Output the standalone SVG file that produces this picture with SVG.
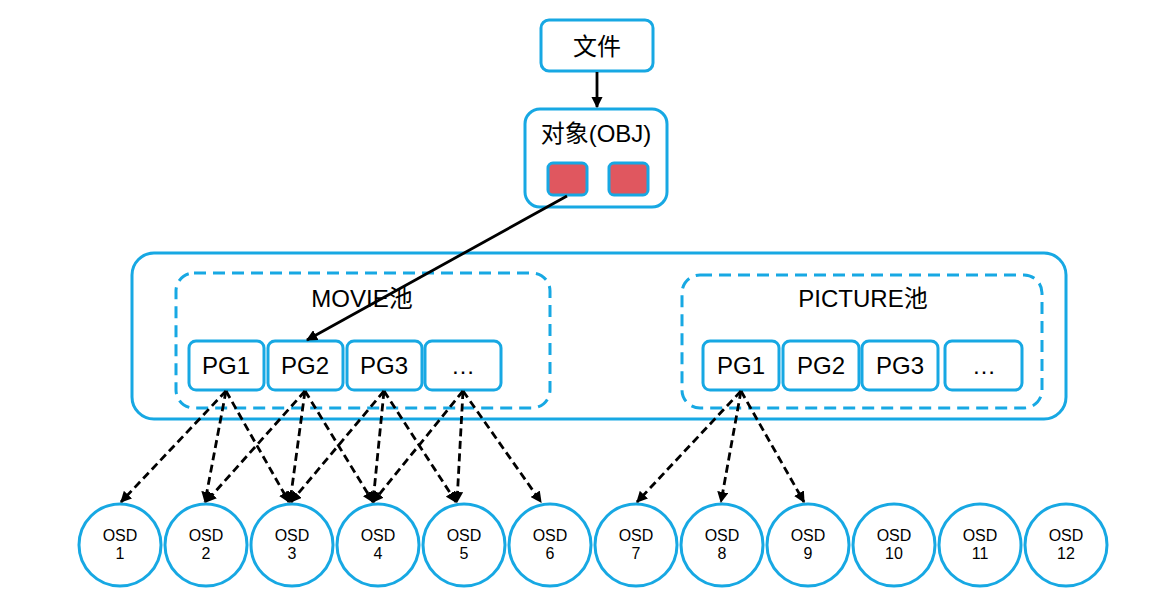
<svg xmlns="http://www.w3.org/2000/svg" width="1158" height="605" viewBox="0 0 1158 605">
<style>
.box{fill:#fff;stroke:#17a8e3;stroke-width:3}
.dash{fill:none;stroke:#17a8e3;stroke-width:3;stroke-dasharray:12,7}
.red{fill:#e0575f;stroke:#17a8e3;stroke-width:3}
.t{font-family:"Liberation Sans","Noto Sans CJK SC",sans-serif;font-size:24px;fill:#000;text-anchor:middle}
.s{font-family:"Liberation Sans","Noto Sans CJK SC",sans-serif;font-size:16px;fill:#000;text-anchor:middle}
.solid{stroke:#000;stroke-width:2.8;fill:none;marker-end:url(#ah)}
.dl{stroke:#000;stroke-width:2.8;fill:none;stroke-dasharray:8,4.5;marker-end:url(#ah)}
</style>
<defs>
<marker id="ah" viewBox="0 0 10 10" refX="9" refY="5" markerWidth="4" markerHeight="4" orient="auto" markerUnits="strokeWidth">
<path d="M0,0 L10,5 L0,10 z" fill="#000"/>
</marker>
</defs>
<rect width="1158" height="605" fill="#fff"/>
<g id="container">
<rect class="box" x="132" y="253" width="934" height="166" rx="22"/>
</g>
<g id="movie-pool">
<rect class="dash" x="176" y="273" width="374" height="135" rx="18"/>
<text class="t" x="362" y="307">MOVIE池</text>
</g>
<g id="picture-pool">
<rect class="dash" x="682" y="275" width="360" height="133" rx="18"/>
<text class="t" x="863" y="307">PICTURE池</text>
</g>
<g id="file">
<rect class="box" x="541" y="20" width="112" height="51" rx="8"/>
<text class="t" x="597" y="55">文件</text>
</g>
<g id="obj">
<rect class="box" x="525" y="109" width="142" height="98" rx="15"/>
<text class="t" x="596" y="142">对象(OBJ)</text>
<rect class="red" x="548" y="163" width="39" height="32" rx="5"/>
<rect class="red" x="609" y="163" width="39" height="32" rx="5"/>
</g>
<g id="movie-pg1"><rect class="box" x="189" y="341" width="75" height="49" rx="7"/><text class="t" x="226" y="374">PG1</text></g>
<g id="movie-pg2"><rect class="box" x="268" y="341" width="75" height="49" rx="7"/><text class="t" x="305" y="374">PG2</text></g>
<g id="movie-pg3"><rect class="box" x="347" y="341" width="75" height="49" rx="7"/><text class="t" x="384" y="374">PG3</text></g>
<g id="movie-more"><rect class="box" x="425" y="341" width="76" height="49" rx="7"/><text class="t" x="463" y="374">…</text></g>
<g id="pic-pg1"><rect class="box" x="703" y="341" width="76" height="49" rx="7"/><text class="t" x="741" y="374">PG1</text></g>
<g id="pic-pg2"><rect class="box" x="783" y="341" width="76" height="49" rx="7"/><text class="t" x="821" y="374">PG2</text></g>
<g id="pic-pg3"><rect class="box" x="862" y="341" width="76" height="49" rx="7"/><text class="t" x="900" y="374">PG3</text></g>
<g id="pic-more"><rect class="box" x="945" y="341" width="77" height="49" rx="7"/><text class="t" x="984" y="374">…</text></g>
<g id="osd1"><circle class="box" cx="120" cy="545" r="41"/><text class="s" x="120" y="541">OSD</text><text class="s" x="120" y="559">1</text></g>
<g id="osd2"><circle class="box" cx="206" cy="545" r="41"/><text class="s" x="206" y="541">OSD</text><text class="s" x="206" y="559">2</text></g>
<g id="osd3"><circle class="box" cx="292" cy="545" r="41"/><text class="s" x="292" y="541">OSD</text><text class="s" x="292" y="559">3</text></g>
<g id="osd4"><circle class="box" cx="378" cy="545" r="41"/><text class="s" x="378" y="541">OSD</text><text class="s" x="378" y="559">4</text></g>
<g id="osd5"><circle class="box" cx="464" cy="545" r="41"/><text class="s" x="464" y="541">OSD</text><text class="s" x="464" y="559">5</text></g>
<g id="osd6"><circle class="box" cx="550" cy="545" r="41"/><text class="s" x="550" y="541">OSD</text><text class="s" x="550" y="559">6</text></g>
<g id="osd7"><circle class="box" cx="636" cy="545" r="41"/><text class="s" x="636" y="541">OSD</text><text class="s" x="636" y="559">7</text></g>
<g id="osd8"><circle class="box" cx="722" cy="545" r="41"/><text class="s" x="722" y="541">OSD</text><text class="s" x="722" y="559">8</text></g>
<g id="osd9"><circle class="box" cx="808" cy="545" r="41"/><text class="s" x="808" y="541">OSD</text><text class="s" x="808" y="559">9</text></g>
<g id="osd10"><circle class="box" cx="894" cy="545" r="41"/><text class="s" x="894" y="541">OSD</text><text class="s" x="894" y="559">10</text></g>
<g id="osd11"><circle class="box" cx="980" cy="545" r="41"/><text class="s" x="980" y="541">OSD</text><text class="s" x="980" y="559">11</text></g>
<g id="osd12"><circle class="box" cx="1066" cy="545" r="41"/><text class="s" x="1066" y="541">OSD</text><text class="s" x="1066" y="559">12</text></g>
<g id="connectors">
<line class="solid" x1="597" y1="72" x2="597" y2="107"/>
<line class="solid" x1="567" y1="196" x2="307" y2="340"/>
<line class="dl" x1="226" y1="391" x2="121" y2="502"/>
<line class="dl" x1="226" y1="391" x2="205" y2="502"/>
<line class="dl" x1="226" y1="391" x2="289" y2="502"/>
<line class="dl" x1="305" y1="391" x2="206" y2="502"/>
<line class="dl" x1="305" y1="391" x2="290" y2="502"/>
<line class="dl" x1="305" y1="391" x2="373" y2="502"/>
<line class="dl" x1="384" y1="391" x2="291" y2="502"/>
<line class="dl" x1="384" y1="391" x2="373" y2="502"/>
<line class="dl" x1="384" y1="391" x2="456" y2="502"/>
<line class="dl" x1="463" y1="391" x2="373" y2="502"/>
<line class="dl" x1="463" y1="391" x2="457" y2="502"/>
<line class="dl" x1="463" y1="391" x2="541" y2="502"/>
<line class="dl" x1="741" y1="391" x2="637" y2="502"/>
<line class="dl" x1="741" y1="391" x2="721" y2="502"/>
<line class="dl" x1="741" y1="391" x2="804" y2="502"/>
</g>
</svg>
